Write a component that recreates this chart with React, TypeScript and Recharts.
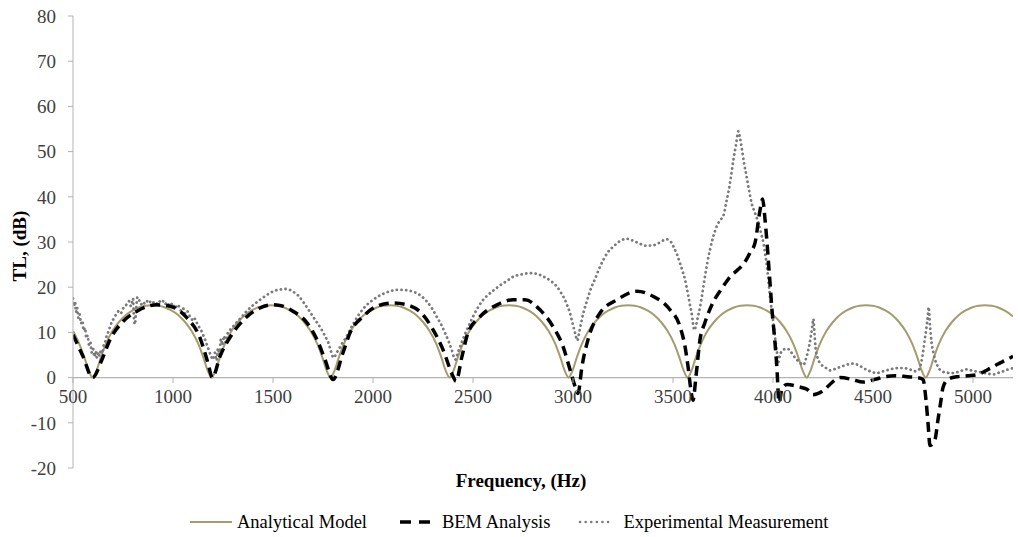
import React from "react";
import { LineChart, Line, XAxis, YAxis, ReferenceLine, Legend } from "recharts";

// Frequency (Hz) / TL (dB) pairs
const analyticalModel: [number, number][] = [
  [500, 10.3], [532, 7.4], [558, 4.3], [578, 1.6], [598, 0],
  [618, 1.6], [638, 4.3], [664, 7.4], [697, 10.3], [730, 12.3], [763, 13.8], [796, 14.8], [829, 15.5], [862, 15.9], [895, 16.0],
  [928, 15.9], [961, 15.5], [994, 14.8], [1027, 13.8], [1060, 12.3], [1093, 10.3], [1127, 7.4], [1153, 4.3], [1173, 1.6], [1193, 0],
  [1213, 1.6], [1233, 4.3], [1259, 7.4], [1292, 10.3], [1325, 12.3], [1358, 13.8], [1391, 14.8], [1424, 15.5], [1457, 15.9], [1490, 16.0],
  [1523, 15.9], [1556, 15.5], [1589, 14.8], [1622, 13.8], [1655, 12.3], [1688, 10.3], [1722, 7.4], [1748, 4.3], [1768, 1.6], [1788, 0],
  [1808, 1.6], [1828, 4.3], [1854, 7.4], [1887, 10.3], [1920, 12.3], [1953, 13.8], [1986, 14.8], [2019, 15.5], [2052, 15.9], [2085, 16.0],
  [2118, 15.9], [2151, 15.5], [2184, 14.8], [2217, 13.8], [2250, 12.3], [2283, 10.3], [2317, 7.4], [2343, 4.3], [2363, 1.6], [2383, 0],
  [2403, 1.6], [2423, 4.3], [2449, 7.4], [2482, 10.3], [2515, 12.3], [2548, 13.8], [2581, 14.8], [2614, 15.5], [2647, 15.9], [2680, 16.0],
  [2713, 15.9], [2746, 15.5], [2779, 14.8], [2812, 13.8], [2845, 12.3], [2878, 10.3], [2912, 7.4], [2938, 4.3], [2958, 1.6], [2978, 0],
  [2998, 1.6], [3018, 4.3], [3044, 7.4], [3077, 10.3], [3110, 12.3], [3143, 13.8], [3176, 14.8], [3209, 15.5], [3242, 15.9], [3275, 16.0],
  [3308, 15.9], [3341, 15.5], [3374, 14.8], [3407, 13.8], [3440, 12.3], [3473, 10.3], [3507, 7.4], [3533, 4.3], [3553, 1.6], [3573, 0],
  [3593, 1.6], [3613, 4.3], [3639, 7.4], [3672, 10.3], [3705, 12.3], [3738, 13.8], [3771, 14.8], [3804, 15.5], [3837, 15.9], [3870, 16.0],
  [3903, 15.9], [3936, 15.5], [3969, 14.8], [4002, 13.8], [4035, 12.3], [4068, 10.3], [4102, 7.4], [4128, 4.3], [4148, 1.6], [4168, 0],
  [4188, 1.6], [4208, 4.3], [4234, 7.4], [4267, 10.3], [4300, 12.3], [4333, 13.8], [4366, 14.8], [4399, 15.5], [4432, 15.9], [4465, 16.0],
  [4498, 15.9], [4531, 15.5], [4564, 14.8], [4597, 13.8], [4630, 12.3], [4663, 10.3], [4697, 7.4], [4723, 4.3], [4743, 1.6], [4763, 0],
  [4783, 1.6], [4803, 4.3], [4829, 7.4], [4862, 10.3], [4895, 12.3], [4928, 13.8], [4961, 14.8], [4994, 15.5], [5027, 15.9], [5060, 16.0],
  [5093, 15.9], [5126, 15.5], [5159, 14.8], [5192, 13.8], [5200, 13.5],
];

const bemAnalysis: [number, number][] = [
  [500, 9.5], [550, 4.7], [598, 0], [645, 4], [685, 8.4], [750, 12.4], [820, 14.7], [920, 16.1], [985, 15.8], [1070, 13.2],
  [1135, 8.8], [1175, 3.2], [1197, 0], [1235, 4.7], [1300, 9.9], [1370, 13.5], [1435, 15.4], [1500, 16.1], [1550, 15.8], [1600, 14.7],
  [1670, 12.1], [1720, 8.4], [1760, 4], [1800, -0.4], [1850, 5.5], [1885, 9.9], [1950, 13.5], [2020, 15.8], [2100, 16.5], [2170, 16.1],
  [2250, 13.9], [2300, 10.6], [2350, 6.2], [2400, 0.3], [2415, -0.8], [2445, 4.7], [2475, 9.9], [2535, 13.5], [2620, 16.1], [2700, 17.2],
  [2760, 17.2], [2835, 15], [2900, 11.3], [2950, 6.9], [2985, 1.8], [3010, -1.9], [3025, -3.5], [3045, 2.5], [3075, 8.4], [3135, 14.3],
  [3220, 17.2], [3320, 19.1], [3400, 18], [3485, 15], [3535, 11.3], [3560, 6.9], [3575, 2.5], [3587, -1.9], [3600, -5], [3615, 0.3],
  [3635, 8.4], [3660, 12.2], [3700, 16.6], [3750, 20.1], [3785, 22.3], [3825, 23.9], [3860, 25.6], [3885, 27.6], [3910, 29.8], [3935, 37],
  [3948, 39.5], [3960, 35], [3985, 21], [3995, 15], [4010, 7.7], [4020, 1.8], [4030, -5.5], [4045, -2.5], [4070, -1.5], [4125, -2],
  [4170, -2.6], [4200, -3.8], [4245, -3.1], [4300, -0.9], [4335, 0], [4395, -0.4], [4450, -1], [4510, -0.4], [4560, 0.2], [4610, 0.4],
  [4670, 0.2], [4720, 0], [4750, -0.4], [4765, -5], [4775, -10], [4785, -15], [4810, -13.7], [4825, -9.3], [4840, -5], [4850, -2.2],
  [4875, -0.4], [4920, 0.2], [4975, 0.4], [5025, 0.7], [5075, 1.8], [5120, 2.9], [5170, 4], [5200, 4.7],
];

const experimentalMeasurement: [number, number][] = [
  [500, 17.5], [505, 15.8], [510, 16.8], [515, 14.5], [520, 15.5], [527, 13.2], [533, 14], [540, 12], [547, 12.6], [553, 10.4],
  [560, 11], [567, 8.7], [573, 9.3], [580, 7.2], [587, 7.8], [593, 5.6], [600, 6.4], [607, 4.6], [613, 5.8], [620, 4.4],
  [627, 5.6], [633, 4.8], [640, 6.2], [647, 5.4], [653, 7], [660, 7.8], [667, 9], [673, 9.6], [680, 10.8], [687, 11.2],
  [693, 12.3], [700, 12.8], [710, 13.6], [720, 14.2], [730, 14.8], [740, 14.3], [750, 15.3], [760, 15.6], [770, 16.4], [780, 16.9],
  [790, 15.8], [800, 17.5], [805, 13], [810, 11.8], [815, 14.5], [822, 17.8], [830, 17.2], [840, 16.2], [850, 16.8], [860, 16.3],
  [870, 16.9], [880, 16.4], [890, 17], [900, 16.6], [910, 16.9], [920, 16.4], [930, 17], [940, 16.5], [950, 16.9], [960, 16.2],
  [970, 16.7], [980, 16.1], [990, 16.5], [1000, 15.6], [1010, 16.2], [1020, 15.3], [1030, 15.8], [1040, 14.8], [1050, 15.4], [1060, 14.2],
  [1070, 14.8], [1080, 13.8], [1090, 13.4], [1100, 12.5], [1110, 13], [1120, 12], [1130, 11.2], [1140, 10.5], [1150, 9.5], [1160, 8.4],
  [1170, 7.2], [1180, 6], [1190, 4.8], [1200, 4], [1210, 5.5], [1218, 3.8], [1225, 6.5], [1232, 5], [1240, 8.6], [1247, 7.2],
  [1255, 9.2], [1262, 7.8], [1270, 9.5], [1280, 10.2], [1290, 10.8], [1300, 11.3], [1335, 13], [1368, 14.7], [1400, 16], [1435, 17.2],
  [1470, 18.3], [1502, 19.1], [1535, 19.5], [1568, 19.6], [1600, 19], [1625, 18.2], [1650, 16.8], [1675, 15.2], [1700, 13.5], [1720, 12.2],
  [1743, 10.6], [1760, 9.2], [1777, 7.7], [1790, 5.8], [1803, 4.4], [1820, 5.6], [1845, 7.5], [1868, 9.1], [1900, 11.8], [1935, 14.3],
  [1965, 15.9], [2000, 17.2], [2040, 18.3], [2085, 19.1], [2120, 19.4], [2150, 19.4], [2185, 19.2], [2218, 18.7], [2245, 17.9], [2268, 16.9],
  [2295, 15.3], [2318, 13.5], [2340, 11.8], [2360, 9.9], [2380, 7.8], [2393, 6.2], [2405, 4.5], [2412, 4], [2425, 5.6], [2443, 7.7],
  [2460, 9.6], [2477, 11.3], [2497, 13.2], [2518, 15], [2540, 16.6], [2568, 18], [2600, 19.2], [2635, 20.4], [2670, 21.4], [2700, 22.3],
  [2740, 22.8], [2785, 23.1], [2815, 23], [2850, 22.4], [2885, 21.5], [2918, 20.2], [2940, 18.8], [2960, 17.2], [2975, 15.5], [2985, 14.3],
  [2995, 12.5], [3005, 10.8], [3015, 9], [3022, 8.2], [3030, 9.8], [3040, 12], [3052, 14.3], [3065, 16.3], [3077, 18], [3092, 20],
  [3110, 21.8], [3130, 24], [3152, 26.1], [3175, 27.8], [3202, 29], [3235, 30.2], [3268, 30.7], [3300, 30.3], [3335, 29.6], [3365, 29.2],
  [3393, 29.2], [3430, 29.8], [3468, 30.6], [3490, 30], [3502, 29], [3518, 27.5], [3535, 25.3], [3548, 23.5], [3560, 21.7], [3568, 20],
  [3577, 18], [3585, 16], [3593, 14.3], [3600, 12], [3607, 10.5], [3615, 11.5], [3625, 13.5], [3635, 15.5], [3648, 19], [3660, 22.4],
  [3672, 25.5], [3685, 28.3], [3700, 31], [3718, 33.4], [3735, 34.8], [3752, 35.8], [3765, 38.5], [3777, 41], [3790, 44.5], [3802, 48.2],
  [3815, 51.5], [3827, 54.5], [3835, 53], [3843, 51], [3855, 47.5], [3868, 44.5], [3880, 41.5], [3893, 38.6], [3910, 36.4], [3927, 34.2],
  [3940, 32], [3952, 29.8], [3960, 27.5], [3968, 25.3], [3977, 21.5], [3985, 18], [3993, 15], [4002, 12.1], [4010, 9], [4018, 6.2],
  [4027, 3.5], [4035, 5], [4052, 6.2], [4070, 6.4], [4085, 6], [4100, 5], [4118, 4], [4135, 3.3], [4152, 2.8], [4165, 4.2],
  [4177, 6.2], [4188, 8.8], [4196, 11.2], [4202, 13], [4207, 10], [4213, 6.5], [4222, 4.5], [4235, 3.2], [4260, 2.3], [4285, 1.6],
  [4320, 2.1], [4352, 2.6], [4380, 3], [4402, 3.1], [4430, 2.7], [4452, 2.1], [4485, 1.4], [4518, 1], [4550, 1.4], [4585, 1.8],
  [4620, 2.1], [4652, 2.1], [4685, 1.8], [4710, 1.4], [4730, 1.8], [4742, 3.5], [4752, 6.2], [4760, 8.8], [4768, 11.3], [4775, 14],
  [4778, 15.6], [4785, 11.5], [4793, 7.7], [4802, 5.5], [4810, 4], [4825, 2.4], [4843, 1.4], [4870, 1.1], [4902, 1], [4935, 1.4],
  [4968, 1.8], [5000, 1.5], [5035, 1.2], [5070, 0.9], [5102, 0.7], [5130, 1.1], [5152, 1.4], [5175, 1.8], [5200, 2.1],
];

const xTicks = [500, 1000, 1500, 2000, 2500, 3000, 3500, 4000, 4500, 5000];
const yTicks = [-20, -10, 0, 10, 20, 30, 40, 50, 60, 70, 80];

const FONT = "'Liberation Serif', 'Times New Roman', serif";
const AXIS = "#b3b3b3";
const TEXT = "#404040";
const TAN = "#a39c6e";
const DOT = "#7a7a7a";
// the x axis crosses at TL = 0, this many px above the plot bottom
const ZERO_SHIFT = 90;

const toRows = (pts: [number, number][]) => pts.map(([hz, tl]) => ({ hz, tl }));

function FreqTick(props: any) {
  const { x, y, payload } = props;
  const y0 = y - ZERO_SHIFT;
  return (
    <g>
      <line x1={x} x2={x} y1={y0} y2={y0 + 5} stroke={AXIS} />
      <text x={x} y={y0 + 25} textAnchor="middle" fill={TEXT} fontSize={19} fontFamily={FONT}>
        {payload.value}
      </text>
    </g>
  );
}

function XTitle() {
  return (
    <text x={521} y={487} textAnchor="middle" fontSize={19} fontWeight="bold" fontFamily={FONT} fill="#000">
      Frequency, (Hz)
    </text>
  );
}

function YTitle() {
  return (
    <text x={22} y={246} transform="rotate(-90, 22, 246)" textAnchor="middle" dominantBaseline="middle"
      fontSize={19} fontWeight="bold" fontFamily={FONT} fill="#000">
      TL, (dB)
    </text>
  );
}

function LegendRow() {
  const item = { display: "flex", alignItems: "center" } as const;
  return (
    <div style={{ display: "flex", alignItems: "center", height: 30, paddingLeft: 190, fontFamily: FONT, fontSize: 18.5, color: "#000" }}>
      <div style={item}>
        <svg width={42} height={10}><line x1={0} x2={42} y1={5} y2={5} stroke={TAN} strokeWidth={2} /></svg>
        <span style={{ marginLeft: 5 }}>Analytical Model</span>
      </div>
      <div style={{ ...item, marginLeft: 33 }}>
        <svg width={30} height={10}><line x1={0} x2={30} y1={5} y2={5} stroke="#000" strokeWidth={3.5} strokeDasharray="11 8" /></svg>
        <span style={{ marginLeft: 12 }}>BEM Analysis</span>
      </div>
      <div style={{ ...item, marginLeft: 28 }}>
        <svg width={35} height={10}>
          <line x1={2} x2={34} y1={5} y2={5} stroke={DOT} strokeWidth={2.5} strokeDasharray="0.1 5.5" strokeLinecap="round" />
        </svg>
        <span style={{ marginLeft: 10 }}>Experimental Measurement</span>
      </div>
    </div>
  );
}

export default function App() {
  return (
    <div style={{ position: "absolute", left: 0, top: 0, width: 1018, height: 537, background: "#fff" }}>
      <LineChart width={1018} height={537} margin={{ top: 16, right: 5, bottom: 0, left: 0 }}>
        <XAxis
          type="number"
          dataKey="hz"
          domain={[500, 5200]}
          ticks={xTicks}
          interval={0}
          allowDataOverflow
          axisLine={false}
          tickLine={false}
          tickSize={0}
          tickMargin={0}
          height={39}
          tick={<FreqTick />}
          label={<XTitle />}
        />
        <YAxis
          type="number"
          domain={[-20, 80]}
          ticks={yTicks}
          interval={0}
          width={73}
          axisLine={{ stroke: AXIS }}
          tickLine={{ stroke: AXIS }}
          tickSize={5}
          tickMargin={12}
          tick={{ fill: TEXT, fontSize: 19, fontFamily: FONT }}
          label={<YTitle />}
        />
        <ReferenceLine y={0} stroke={AXIS} strokeWidth={1.2} />
        <Line
          data={toRows(analyticalModel)}
          dataKey="tl"
          type="monotone"
          stroke={TAN}
          strokeWidth={2}
          dot={false}
          name="Analytical Model"
          isAnimationActive={false}
        />
        <Line
          data={toRows(experimentalMeasurement)}
          dataKey="tl"
          type="monotone"
          stroke={DOT}
          strokeWidth={2.8}
          strokeDasharray="0.1 4.6"
          strokeLinecap="round"
          dot={false}
          name="Experimental Measurement"
          isAnimationActive={false}
        />
        <Line
          data={toRows(bemAnalysis)}
          dataKey="tl"
          type="monotone"
          stroke="#000"
          strokeWidth={3.5}
          strokeDasharray="10 6"
          dot={false}
          name="BEM Analysis"
          isAnimationActive={false}
        />
        <Legend verticalAlign="bottom" height={30} content={<LegendRow />} />
      </LineChart>
    </div>
  );
}
